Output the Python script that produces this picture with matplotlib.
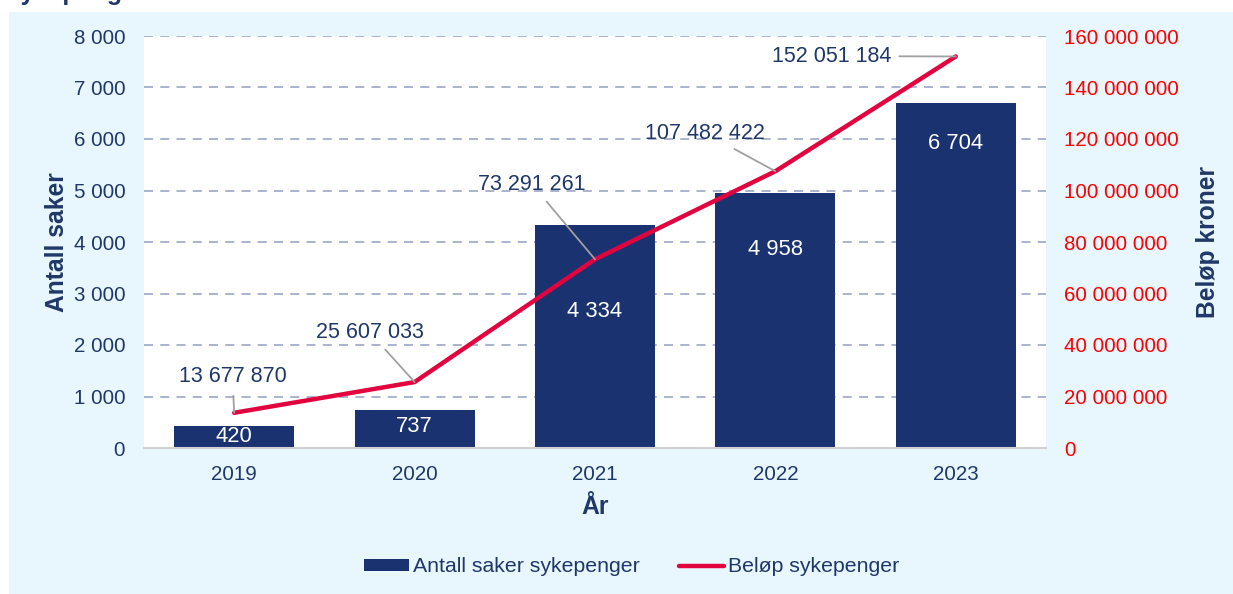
import matplotlib
matplotlib.use("Agg")
import matplotlib.pyplot as plt
from matplotlib.patches import Rectangle
from matplotlib.lines import Line2D
from matplotlib.ticker import FuncFormatter, MultipleLocator

# ---- data ----
years = ["2019", "2020", "2021", "2022", "2023"]
antall_saker = [420, 737, 4334, 4958, 6704]
belop = [13677870, 25607033, 73291261, 107482422, 152051184]

# label placement (positions only)
bar_label_y = [233, 427, 2660, 3864, 5922]
line_label_xy = [(-0.01, 27.6e6), (0.75, 45.0e6), (1.65, 102.5e6), (2.61, 122.3e6), (3.31, 152.2e6)]

plt.rcParams['font.family'] = ['Liberation Sans', 'DejaVu Sans']

navy = "#1B3270"
text_blue = "#1F3868"
red_line = "#E2043F"
panel = "#E8F6FE"
grid_c = "#A4ADC9"

def space_fmt(v, pos=None):
    return f"{int(round(v)):,}".replace(",", " ")

fig = plt.figure(figsize=(12.33, 5.94), dpi=100)
fig.patch.set_facecolor("white")
fig.patches.append(Rectangle((9/1233, 0), 1 - 9/1233, 1 - 12/594, transform=fig.transFigure,
                             facecolor=panel, edgecolor="none", zorder=-10))
fig.text(4/1233, 1.0, "Sykepenger", fontsize=18, fontweight="bold", color=text_blue,
         va="baseline", ha="left")

ax = fig.add_axes([144/1233, 1 - 448/594, 902/1233, 412/594])
ax.set_facecolor("white")
x = list(range(len(years)))
ax.bar(x, antall_saker, width=0.665, color=navy, zorder=2)
ax.set_xlim(-0.5, len(years) - 0.5)
ax.set_ylim(0, 8000)
ax.yaxis.set_major_locator(MultipleLocator(1000))
ax.yaxis.set_major_formatter(FuncFormatter(space_fmt))
ax.set_xticks(x)
ax.set_xticklabels(years)
ax.grid(axis="y", color=grid_c, linestyle=(0, (5, 4)), linewidth=1.3, zorder=0)
ax.set_axisbelow(True)
for s in ["top", "left", "right"]:
    ax.spines[s].set_visible(False)
ax.spines["bottom"].set_color("#D0D0D0")
ax.spines["bottom"].set_linewidth(1.5)
ax.tick_params(axis="both", length=0, labelsize=14.8, labelcolor=text_blue)
ax.tick_params(axis="y", pad=13.5)
ax.tick_params(axis="x", pad=12)
ax.set_ylabel("Antall saker", fontsize=17.7, fontweight="bold", color=text_blue, labelpad=3)
ax.set_xlabel("År", fontsize=17.7, fontweight="bold", color=text_blue, labelpad=8)

for xi, v, ly in zip(x, antall_saker, bar_label_y):
    ax.text(xi, ly, space_fmt(v), color="white", fontsize=15.8, ha="center", va="center", zorder=4)

ax2 = ax.twinx()
ax2.set_ylim(0, 160e6)
ax2.yaxis.set_major_locator(MultipleLocator(20e6))
ax2.yaxis.set_major_formatter(FuncFormatter(space_fmt))
ax2.plot(x, belop, color=red_line, linewidth=3.2, solid_capstyle="round", zorder=5)
for s in ["top", "left", "right", "bottom"]:
    ax2.spines[s].set_visible(False)
ax2.tick_params(axis="y", length=0, labelsize=14.8, labelcolor="#FF0000", pad=13)
ax2.set_ylabel("Beløp kroner", fontsize=17.7, fontweight="bold", color=text_blue, labelpad=12)

for xi, v, (lx, ly) in zip(x, belop, line_label_xy):
    ax2.annotate(space_fmt(v), xy=(xi, v), xytext=(lx, ly), textcoords="data",
                 fontsize=15.5, color=text_blue, ha="center", va="center",
                 arrowprops=dict(arrowstyle="-", color="#A0A0A0", lw=1.3,
                                 shrinkA=4, shrinkB=0), zorder=6)

h1 = Rectangle((0, 0), 1, 1, facecolor=navy)
h2 = Line2D([0], [0], color=red_line, linewidth=3.2, solid_capstyle="round")
fig.legend([h1, h2], ["Antall saker sykepenger", "Beløp sykepenger"], loc="center",
           bbox_to_anchor=(632/1233, 1 - 567/594), ncol=2, frameon=False,
           fontsize=15.3, labelcolor=text_blue, handlelength=2.1, handleheight=0.5,
           handletextpad=0.2, columnspacing=1.85)

fig.savefig("out.png", dpi=100)
